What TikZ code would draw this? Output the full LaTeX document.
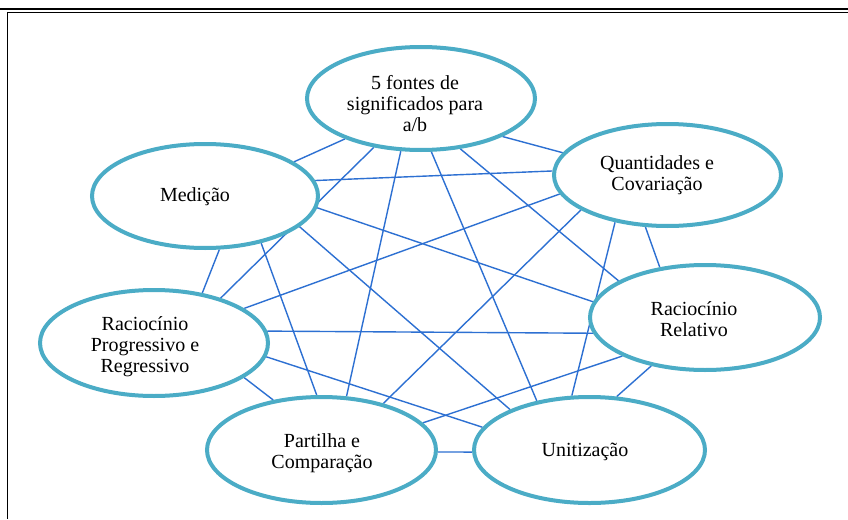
\documentclass[tikz,border=0pt]{standalone}
\usepackage{fontspec}
\setmainfont{Liberation Serif}
\newfontfamily\lblfont{Liberation Serif}
\usetikzlibrary{shapes.geometric}
\definecolor{ringc}{RGB}{75,172,198}
\definecolor{edgec}{RGB}{45,112,210}
\pgfdeclarelayer{bg}
\pgfdeclarelayer{paper}
\pgfsetlayers{paper,bg,main}
\begin{document}
\begin{tikzpicture}[x=1pt,y=-1pt,
  ring/.style={ellipse,draw=ringc,line width=4pt,fill=white,inner sep=0pt},
  lbl/.style={align=center,font=\lblfont\fontsize{20}{21}\selectfont,inner sep=0pt,text=black},
  link/.style={draw=edgec,line width=1.4pt}]
\useasboundingbox (0,0) rectangle (848,519);
\begin{pgfonlayer}{paper}
\fill[white] (0,0) rectangle (848,519);
\end{pgfonlayer}
% frame
\draw[line width=2.6pt] (0,9) -- (848,9);
\draw[line width=1.2pt] (7.5,12.5) -- (848,12.5);
\draw[line width=1.8pt] (7.5,12) -- (7.5,519);
% ellipses
\node[ring,minimum width=228,minimum height=103] (T) at (421,98.5) {};
\node[ring,minimum width=226,minimum height=104] (M) at (205,196) {};
\node[ring,minimum width=227,minimum height=102] (Q) at (667.5,175) {};
\node[ring,minimum width=228,minimum height=106] (P) at (154,343) {};
\node[ring,minimum width=230,minimum height=105] (R) at (705,317.5) {};
\node[ring,minimum width=229,minimum height=106] (S) at (321.5,450) {};
\node[ring,minimum width=231,minimum height=106] (U) at (589.5,450) {};
% labels
\node[lbl] (Tt) at (415,104) {5 fontes de\\significados para\\a/b};
\node[lbl] (Mt) at (195,197) {Medição};
\node[lbl] (Qt) at (657,175) {Quantidades e\\Covariação};
\node[lbl] (Pt) at (145,347) {Raciocínio\\Progressivo e\\Regressivo};
\node[lbl] (Rt) at (694,319) {Raciocínio\\Relativo};
\node[lbl] (St) at (322,453) {Partilha e\\Comparação};
\node[lbl] (Ut) at (585,452) {Unitização};
% connectors
\begin{pgfonlayer}{bg}
\draw[link] (T.208) -- (M.21);
\draw[link] (T.335) -- (Q.168);
\draw[link] (T.226) -- (P.34);
\draw[link] (T.249) -- (S.65);
\draw[link] (T.281) -- (U.137);
\draw[link] (T.308) -- (R.157);
\draw[link] (M.8) -- (Q.178);
\draw[link] (M.354) -- (R.172);
\draw[link] (M.342) -- (U.153);
\draw[link] (M.320) -- (S.95);
\draw[link] (M.285) -- (P.46);
\draw[link] (Q.190) -- (P.21);
\draw[link] (Q.202) -- (S.37);
\draw[link] (Q.222) -- (U.108);
\draw[link] (Q.247) -- (R.132);
\draw[link] (P.6) -- (R.188);
\draw[link] (P.353) -- (U.168);
\draw[link] (P.339) -- (S.134);
\draw[link] (R.205) -- (S.15);
\draw[link] (R.222) -- (U.63);
\draw[link] (S.359) -- (U.181);
\end{pgfonlayer}
\end{tikzpicture}
\end{document}
